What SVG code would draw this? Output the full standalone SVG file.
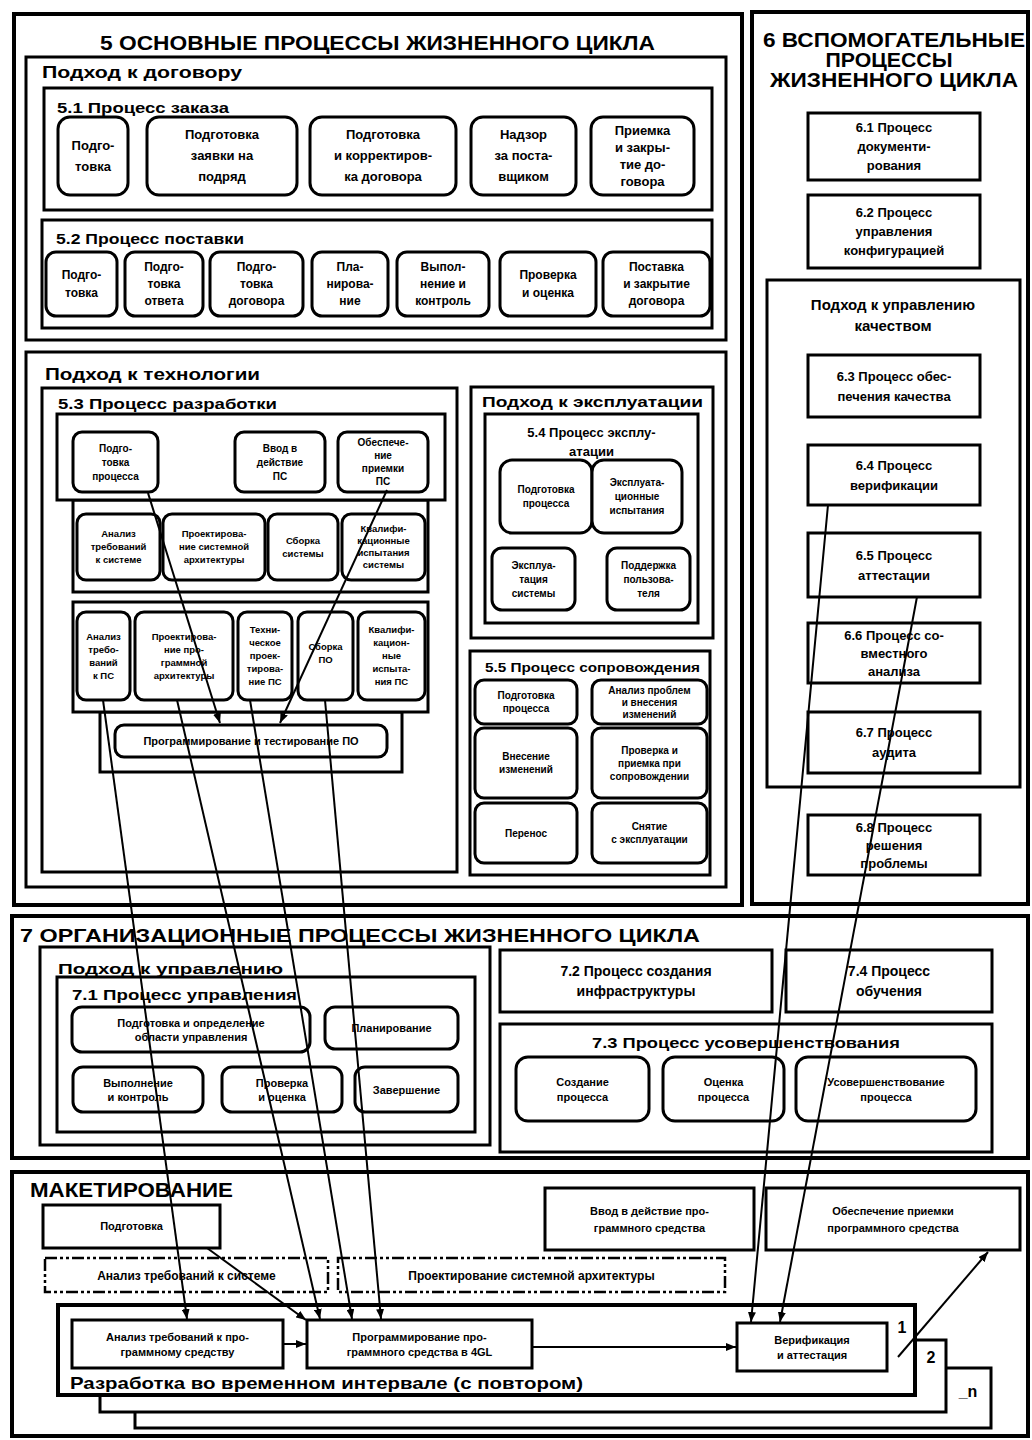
<svg xmlns="http://www.w3.org/2000/svg" width="1032" height="1440" viewBox="0 0 1032 1440">
<style>
.t{font-family:"Liberation Sans",Arial,sans-serif;font-weight:bold;fill:#000}
.c{text-anchor:middle}
.sec{fill:#fff;stroke:#000;stroke-width:4}
.box{fill:#fff;stroke:#000;stroke-width:3}
.node{fill:#fff;stroke:#000;stroke-width:3}
.dash{fill:#fff;stroke:#000;stroke-width:2.5;stroke-dasharray:12 3 3 3 3 3}
.ln{fill:none;stroke:#000;stroke-width:2}
</style>
<defs>
<marker id="ah" viewBox="0 0 10 8" refX="10" refY="4" markerWidth="10" markerHeight="8" markerUnits="userSpaceOnUse" orient="auto"><path d="M0,0 L10,4 L0,8 z"/></marker>
</defs>
<rect width="1032" height="1440" fill="#fff"/>

<!-- Section 5 -->
<g id="sec5">
<rect class="sec" x="14" y="14" width="728" height="891"/>
<text class="t" x="100" y="50" font-size="21" textLength="555" lengthAdjust="spacingAndGlyphs">5 ОСНОВНЫЕ ПРОЦЕССЫ ЖИЗНЕННОГО ЦИКЛА</text>
</g>
<g id="contract">
<rect class="box" x="26" y="57" width="700" height="283"/>
<text class="t" x="42" y="78" font-size="16" textLength="200" lengthAdjust="spacingAndGlyphs">Подход к договору</text>
</g>
<g id="p51">
<rect class="box" x="44" y="88" width="668" height="122"/>
<text class="t" x="57" y="113" font-size="14" textLength="172" lengthAdjust="spacingAndGlyphs">5.1 Процесс заказа</text>
</g>
<g id="p51-1"><rect class="node" x="58" y="117" width="70" height="78" rx="12"/><text class="t c" font-size="13" x="93" y="150">Подго-<tspan x="93" dy="21">товка</tspan></text></g>
<g id="p51-2"><rect class="node" x="147" y="117" width="150" height="78" rx="12"/><text class="t c" font-size="13" x="222" y="139">Подготовка<tspan x="222" dy="21">заявки на</tspan><tspan x="222" dy="21">подряд</tspan></text></g>
<g id="p51-3"><rect class="node" x="310" y="117" width="146" height="78" rx="12"/><text class="t c" font-size="13" x="383" y="139">Подготовка<tspan x="383" dy="21">и корректиров-</tspan><tspan x="383" dy="21">ка договора</tspan></text></g>
<g id="p51-4"><rect class="node" x="471" y="117" width="105" height="78" rx="12"/><text class="t c" font-size="13" x="523.5" y="139">Надзор<tspan x="523.5" dy="21">за поста-</tspan><tspan x="523.5" dy="21">вщиком</tspan></text></g>
<g id="p51-5"><rect class="node" x="591" y="117" width="103" height="78" rx="12"/><text class="t c" font-size="13" x="642.5" y="135">Приемка<tspan x="642.5" dy="17">и закры-</tspan><tspan x="642.5" dy="17">тие до-</tspan><tspan x="642.5" dy="17">говора</tspan></text></g>

<g id="p52">
<rect class="box" x="42" y="220" width="670" height="108"/>
<text class="t" x="56" y="244" font-size="14" textLength="188" lengthAdjust="spacingAndGlyphs">5.2 Процесс поставки</text>
</g>
<g id="p52-1"><rect class="node" x="46" y="252" width="71" height="64" rx="10"/><text class="t c" font-size="12" x="81.5" y="279">Подго-<tspan x="81.5" dy="18">товка</tspan></text></g>
<g id="p52-2"><rect class="node" x="125" y="252" width="78" height="64" rx="10"/><text class="t c" font-size="12" x="164" y="271">Подго-<tspan x="164" dy="17">товка</tspan><tspan x="164" dy="17">ответа</tspan></text></g>
<g id="p52-3"><rect class="node" x="210" y="252" width="93" height="64" rx="10"/><text class="t c" font-size="12" x="256.5" y="271">Подго-<tspan x="256.5" dy="17">товка</tspan><tspan x="256.5" dy="17">договора</tspan></text></g>
<g id="p52-4"><rect class="node" x="312" y="252" width="76" height="64" rx="10"/><text class="t c" font-size="12" x="350" y="271">Пла-<tspan x="350" dy="17">нирова-</tspan><tspan x="350" dy="17">ние</tspan></text></g>
<g id="p52-5"><rect class="node" x="397" y="252" width="92" height="64" rx="10"/><text class="t c" font-size="12" x="443" y="271">Выпол-<tspan x="443" dy="17">нение и</tspan><tspan x="443" dy="17">контроль</tspan></text></g>
<g id="p52-6"><rect class="node" x="500" y="252" width="96" height="64" rx="10"/><text class="t c" font-size="12" x="548" y="279">Проверка<tspan x="548" dy="18">и оценка</tspan></text></g>
<g id="p52-7"><rect class="node" x="603" y="252" width="107" height="64" rx="10"/><text class="t c" font-size="12" x="656.5" y="271">Поставка<tspan x="656.5" dy="17">и закрытие</tspan><tspan x="656.5" dy="17">договора</tspan></text></g>

<g id="tech">
<rect class="box" x="26" y="352" width="700" height="535"/>
<text class="t" x="45" y="380" font-size="16" textLength="215" lengthAdjust="spacingAndGlyphs">Подход к технологии</text>
</g>
<g id="p53">
<rect class="box" x="42" y="388" width="415" height="484"/>
<text class="t" x="58" y="409" font-size="14" textLength="219" lengthAdjust="spacingAndGlyphs">5.3 Процесс разработки</text>
<rect class="box" x="100" y="712" width="302" height="60"/>
<rect class="box" x="73" y="602" width="355" height="110"/>
<rect class="box" x="73" y="500" width="355" height="92"/>
<rect class="box" x="57" y="414" width="388" height="86"/>
</g>
<g id="p53-prep"><rect class="node" x="73" y="432" width="85" height="60" rx="9"/><text class="t c" font-size="10" x="115.5" y="451.5">Подго-<tspan x="115.5" dy="14">товка</tspan><tspan x="115.5" dy="14">процесса</tspan></text></g>
<g id="p53-install"><rect class="node" x="235" y="432" width="90" height="60" rx="9"/><text class="t c" font-size="10" x="280" y="451.5">Ввод в<tspan x="280" dy="14">действие</tspan><tspan x="280" dy="14">ПС</tspan></text></g>
<g id="p53-accept"><rect class="node" x="338" y="432" width="90" height="60" rx="9"/><text class="t c" font-size="10" x="383" y="446">Обеспече-<tspan x="383" dy="13">ние</tspan><tspan x="383" dy="13">приемки</tspan><tspan x="383" dy="13">ПС</tspan></text></g>
<g id="p53-sysreq"><rect class="node" x="77" y="514" width="83" height="66" rx="9"/><text class="t c" font-size="9.5" x="118.5" y="537.3">Анализ<tspan x="118.5" dy="13">требований</tspan><tspan x="118.5" dy="13">к системе</tspan></text></g>
<g id="p53-sysarch"><rect class="node" x="163" y="514" width="102" height="66" rx="9"/><text class="t c" font-size="9.5" x="214" y="537.3">Проектирова-<tspan x="214" dy="13">ние системной</tspan><tspan x="214" dy="13">архитектуры</tspan></text></g>
<g id="p53-sysint"><rect class="node" x="268" y="514" width="70" height="66" rx="9"/><text class="t c" font-size="9.5" x="303" y="543.8">Сборка<tspan x="303" dy="13">системы</tspan></text></g>
<g id="p53-sysqual"><rect class="node" x="342" y="514" width="83" height="66" rx="9"/><text class="t c" font-size="9.5" x="383.5" y="532.3">Квалифи-<tspan x="383.5" dy="12">кационные</tspan><tspan x="383.5" dy="12">испытания</tspan><tspan x="383.5" dy="12">системы</tspan></text></g>
<g id="p53-swreq"><rect class="node" x="77" y="612" width="53" height="88" rx="9"/><text class="t c" font-size="9.5" x="103.5" y="639.8">Анализ<tspan x="103.5" dy="13">требо-</tspan><tspan x="103.5" dy="13">ваний</tspan><tspan x="103.5" dy="13">к ПС</tspan></text></g>
<g id="p53-swarch"><rect class="node" x="135" y="612" width="98" height="88" rx="9"/><text class="t c" font-size="9.5" x="184" y="639.8">Проектирова-<tspan x="184" dy="13">ние про-</tspan><tspan x="184" dy="13">граммной</tspan><tspan x="184" dy="13">архитектуры</tspan></text></g>
<g id="p53-swdes"><rect class="node" x="238" y="612" width="54" height="88" rx="9"/><text class="t c" font-size="9.5" x="265" y="633.3">Техни-<tspan x="265" dy="13">ческое</tspan><tspan x="265" dy="13">проек-</tspan><tspan x="265" dy="13">тирова-</tspan><tspan x="265" dy="13">ние ПС</tspan></text></g>
<g id="p53-swint"><rect class="node" x="298" y="612" width="55" height="88" rx="9"/><text class="t c" font-size="9.5" x="325.5" y="649.8">Сборка<tspan x="325.5" dy="13">ПО</tspan></text></g>
<g id="p53-swqual"><rect class="node" x="358" y="612" width="67" height="88" rx="9"/><text class="t c" font-size="9.5" x="391.5" y="633.3">Квалифи-<tspan x="391.5" dy="13">кацион-</tspan><tspan x="391.5" dy="13">ные</tspan><tspan x="391.5" dy="13">испыта-</tspan><tspan x="391.5" dy="13">ния ПС</tspan></text></g>
<g id="p53-code"><rect class="node" x="115" y="725" width="272" height="32" rx="9"/><text class="t c" font-size="11" x="251" y="745">Программирование и тестирование ПО</text></g>

<g id="oper">
<rect class="box" x="471" y="387" width="242" height="251"/>
<text class="t" x="482" y="407" font-size="14" textLength="221" lengthAdjust="spacingAndGlyphs">Подход к эксплуатации</text>
</g>
<g id="p54">
<rect class="box" x="485" y="414" width="213" height="209"/>
<text class="t c" font-size="13" x="591.5" y="437">5.4 Процесс эксплу-<tspan x="591.5" dy="19">атации</tspan></text>
</g>
<g id="p54-1"><rect class="node" x="500" y="460" width="92" height="73" rx="12"/><text class="t c" font-size="10" x="546" y="493">Подготовка<tspan x="546" dy="14">процесса</tspan></text></g>
<g id="p54-2"><rect class="node" x="592" y="460" width="90" height="73" rx="12"/><text class="t c" font-size="10" x="637" y="486">Эксплуата-<tspan x="637" dy="14">ционные</tspan><tspan x="637" dy="14">испытания</tspan></text></g>
<g id="p54-3"><rect class="node" x="492" y="548" width="83" height="62" rx="10"/><text class="t c" font-size="10" x="533.5" y="568.5">Эксплуа-<tspan x="533.5" dy="14">тация</tspan><tspan x="533.5" dy="14">системы</tspan></text></g>
<g id="p54-4"><rect class="node" x="607" y="548" width="83" height="62" rx="10"/><text class="t c" font-size="10" x="648.5" y="568.5">Поддержка<tspan x="648.5" dy="14">пользова-</tspan><tspan x="648.5" dy="14">теля</tspan></text></g>

<g id="p55">
<rect class="box" x="470" y="651" width="240" height="224"/>
<text class="t" x="485" y="672" font-size="12" textLength="215" lengthAdjust="spacingAndGlyphs">5.5 Процесс сопровождения</text>
</g>
<g id="p55-1"><rect class="node" x="475" y="680" width="102" height="44" rx="9"/><text class="t c" font-size="10" x="526" y="699">Подготовка<tspan x="526" dy="13">процесса</tspan></text></g>
<g id="p55-2"><rect class="node" x="592" y="680" width="115" height="44" rx="9"/><text class="t c" font-size="10" x="649.5" y="693.5">Анализ проблем<tspan x="649.5" dy="12">и внесения</tspan><tspan x="649.5" dy="12">изменений</tspan></text></g>
<g id="p55-3"><rect class="node" x="475" y="728" width="102" height="70" rx="9"/><text class="t c" font-size="10" x="526" y="760">Внесение<tspan x="526" dy="13">изменений</tspan></text></g>
<g id="p55-4"><rect class="node" x="592" y="728" width="115" height="70" rx="9"/><text class="t c" font-size="10" x="649.5" y="753.5">Проверка и<tspan x="649.5" dy="13">приемка при</tspan><tspan x="649.5" dy="13">сопровождении</tspan></text></g>
<g id="p55-5"><rect class="node" x="475" y="803" width="102" height="60" rx="9"/><text class="t c" font-size="10" x="526" y="836.5">Перенос</text></g>
<g id="p55-6"><rect class="node" x="592" y="803" width="115" height="60" rx="9"/><text class="t c" font-size="10" x="649.5" y="830">Снятие<tspan x="649.5" dy="13">с эксплуатации</tspan></text></g>

<!-- Section 6 -->
<g id="sec6">
<rect class="sec" x="752" y="12" width="276" height="892"/>
<text class="t c" font-size="20" x="894" y="47" textLength="262" lengthAdjust="spacingAndGlyphs">6 ВСПОМОГАТЕЛЬНЫЕ</text>
<text class="t c" font-size="20" x="889" y="67" textLength="127" lengthAdjust="spacingAndGlyphs">ПРОЦЕССЫ</text>
<text class="t c" font-size="20" x="894" y="87" textLength="248" lengthAdjust="spacingAndGlyphs">ЖИЗНЕННОГО ЦИКЛА</text>
</g>
<g id="p61"><rect class="box" x="808" y="113" width="172" height="67"/><text class="t c" font-size="13" x="894" y="132">6.1 Процесс<tspan x="894" dy="19">документи-</tspan><tspan x="894" dy="19">рования</tspan></text></g>
<g id="p62"><rect class="box" x="808" y="195" width="172" height="73"/><text class="t c" font-size="13" x="894" y="217">6.2 Процесс<tspan x="894" dy="19">управления</tspan><tspan x="894" dy="19">конфигурацией</tspan></text></g>
<g id="quality"><rect class="box" x="767" y="280" width="253" height="507"/><text class="t c" font-size="15" x="893" y="310">Подход к управлению<tspan x="893" dy="21">качеством</tspan></text></g>
<g id="p63"><rect class="box" x="808" y="355" width="172" height="62"/><text class="t c" font-size="13" x="894" y="380.5">6.3 Процесс обес-<tspan x="894" dy="20">печения качества</tspan></text></g>
<g id="p64"><rect class="box" x="808" y="445" width="172" height="60"/><text class="t c" font-size="13" x="894" y="469.5">6.4 Процесс<tspan x="894" dy="20">верификации</tspan></text></g>
<g id="p65"><rect class="box" x="808" y="533" width="172" height="64"/><text class="t c" font-size="13" x="894" y="559.5">6.5 Процесс<tspan x="894" dy="20">аттестации</tspan></text></g>
<g id="p66"><rect class="box" x="808" y="623" width="172" height="60"/><text class="t c" font-size="13" x="894" y="639.5">6.6 Процесс со-<tspan x="894" dy="18">вместного</tspan><tspan x="894" dy="18">анализа</tspan></text></g>
<g id="p67"><rect class="box" x="808" y="712" width="172" height="61"/><text class="t c" font-size="13" x="894" y="737">6.7 Процесс<tspan x="894" dy="20">аудита</tspan></text></g>
<g id="p68"><rect class="box" x="808" y="815" width="172" height="60"/><text class="t c" font-size="13" x="894" y="831.5">6.8 Процесс<tspan x="894" dy="18">решения</tspan><tspan x="894" dy="18">проблемы</tspan></text></g>

<!-- Section 7 -->
<g id="sec7">
<rect class="sec" x="12" y="916" width="1016" height="242"/>
<text class="t" x="20" y="942" font-size="19" textLength="680" lengthAdjust="spacingAndGlyphs">7 ОРГАНИЗАЦИОННЫЕ ПРОЦЕССЫ ЖИЗНЕННОГО ЦИКЛА</text>
</g>
<g id="mgmt"><rect class="box" x="40" y="947" width="450" height="198"/><text class="t" x="58" y="974" font-size="15" textLength="225" lengthAdjust="spacingAndGlyphs">Подход к управлению</text></g>
<g id="p71"><rect class="box" x="57" y="977" width="418" height="155"/><text class="t" x="72" y="1000" font-size="14" textLength="225" lengthAdjust="spacingAndGlyphs">7.1 Процесс управления</text></g>
<g id="p71-1"><rect class="node" x="72" y="1007" width="238" height="45" rx="10"/><text class="t c" font-size="11" x="191" y="1026.5">Подготовка и определение<tspan x="191" dy="14">области управления</tspan></text></g>
<g id="p71-2"><rect class="node" x="325" y="1007" width="133" height="42" rx="10"/><text class="t c" font-size="11" x="391.5" y="1032">Планирование</text></g>
<g id="p71-3"><rect class="node" x="73" y="1067" width="130" height="45" rx="10"/><text class="t c" font-size="11" x="138" y="1086.5">Выполнение<tspan x="138" dy="14">и контроль</tspan></text></g>
<g id="p71-4"><rect class="node" x="222" y="1067" width="120" height="45" rx="10"/><text class="t c" font-size="11" x="282" y="1086.5">Проверка<tspan x="282" dy="14">и оценка</tspan></text></g>
<g id="p71-5"><rect class="node" x="355" y="1067" width="103" height="45" rx="10"/><text class="t c" font-size="11" x="406.5" y="1093.5">Завершение</text></g>
<g id="p72"><rect class="box" x="500" y="950" width="272" height="62"/><text class="t c" font-size="14" x="636" y="976">7.2 Процесс создания<tspan x="636" dy="20">инфраструктуры</tspan></text></g>
<g id="p74"><rect class="box" x="786" y="950" width="206" height="62"/><text class="t c" font-size="14" x="889" y="976">7.4 Процесс<tspan x="889" dy="20">обучения</tspan></text></g>
<g id="p73"><rect class="box" x="500" y="1024" width="492" height="128"/><text class="t c" font-size="14" x="746" y="1048" textLength="308" lengthAdjust="spacingAndGlyphs">7.3 Процесс усовершенствования</text></g>
<g id="p73-1"><rect class="node" x="516" y="1057" width="133" height="64" rx="12"/><text class="t c" font-size="11" x="582.5" y="1085.5">Создание<tspan x="582.5" dy="15">процесса</tspan></text></g>
<g id="p73-2"><rect class="node" x="663" y="1057" width="121" height="64" rx="12"/><text class="t c" font-size="11" x="723.5" y="1085.5">Оценка<tspan x="723.5" dy="15">процесса</tspan></text></g>
<g id="p73-3"><rect class="node" x="796" y="1057" width="180" height="64" rx="12"/><text class="t c" font-size="11" x="886" y="1085.5">Усовершенствование<tspan x="886" dy="15">процесса</tspan></text></g>

<!-- Prototyping -->
<g id="proto">
<rect class="sec" x="12" y="1172" width="1016" height="264"/>
<text class="t" x="30" y="1197" font-size="20" textLength="203" lengthAdjust="spacingAndGlyphs">МАКЕТИРОВАНИЕ</text>
</g>
<g id="pr-prep"><rect class="box" x="43" y="1205" width="177" height="43"/><text class="t c" font-size="11" x="131.5" y="1230">Подготовка</text></g>
<g id="pr-install"><rect class="box" x="545" y="1188" width="209" height="62"/><text class="t c" font-size="11" x="649.5" y="1214.5">Ввод в действие про-<tspan x="649.5" dy="17">граммного средства</tspan></text></g>
<g id="pr-accept"><rect class="box" x="766" y="1188" width="254" height="62"/><text class="t c" font-size="11" x="893" y="1214.5">Обеспечение приемки<tspan x="893" dy="17">программного средства</tspan></text></g>
<g id="pr-sysreq"><rect class="dash" x="45" y="1258" width="283" height="34"/><text class="t c" font-size="12" x="186.5" y="1280">Анализ требований к системе</text></g>
<g id="pr-sysarch"><rect class="dash" x="338" y="1258" width="387" height="34"/><text class="t c" font-size="12" x="531.5" y="1280">Проектирование системной архитектуры</text></g>
<g id="pr-iter">
<rect class="box" x="135" y="1368" width="856" height="60"/>
<rect class="box" x="100" y="1340" width="846" height="72"/>
<rect class="sec" x="58" y="1305" width="857" height="90"/>
<text class="t" x="902" y="1333" font-size="16" text-anchor="middle">1</text>
<text class="t" x="931" y="1363" font-size="16" text-anchor="middle">2</text>
<text class="t" x="968" y="1397" font-size="16" text-anchor="middle">_n</text>
<text class="t" x="70" y="1389" font-size="17" textLength="513" lengthAdjust="spacingAndGlyphs">Разработка во временном интервале (с повтором)</text>
</g>
<g id="pr-swreq"><rect class="box" x="72" y="1320" width="211" height="48"/><text class="t c" font-size="11" x="177.5" y="1340.5">Анализ требований к про-<tspan x="177.5" dy="15">граммному средству</tspan></text></g>
<g id="pr-code"><rect class="box" x="307" y="1320" width="225" height="48"/><text class="t c" font-size="11" x="419.5" y="1340.5">Программирование про-<tspan x="419.5" dy="15">граммного средства в 4GL</tspan></text></g>
<g id="pr-vv"><rect class="box" x="737" y="1323" width="150" height="48"/><text class="t c" font-size="11" x="812" y="1343.5">Верификация<tspan x="812" dy="15">и аттестация</tspan></text></g>

<!-- Connectors -->
<g id="connectors" class="ln">
<line x1="148" y1="493" x2="220" y2="723" marker-end="url(#ah)"/>
<line x1="387" y1="490" x2="280" y2="723" marker-end="url(#ah)"/>
<line x1="103" y1="700" x2="187" y2="1319" marker-end="url(#ah)"/>
<line x1="177" y1="700" x2="320" y2="1319" marker-end="url(#ah)"/>
<line x1="250" y1="700" x2="352" y2="1319" marker-end="url(#ah)"/>
<line x1="325" y1="700" x2="381" y2="1319" marker-end="url(#ah)"/>
<line x1="828" y1="505" x2="751" y2="1322" marker-end="url(#ah)"/>
<line x1="917" y1="597" x2="780" y2="1322" marker-end="url(#ah)"/>
<line x1="207" y1="1248" x2="306" y2="1320" marker-end="url(#ah)"/>
<line x1="283" y1="1344" x2="306" y2="1344" marker-end="url(#ah)"/>
<line x1="532" y1="1347" x2="736" y2="1347" marker-end="url(#ah)"/>
<line x1="898" y1="1357" x2="988" y2="1252" marker-end="url(#ah)"/>
</g>
</svg>
